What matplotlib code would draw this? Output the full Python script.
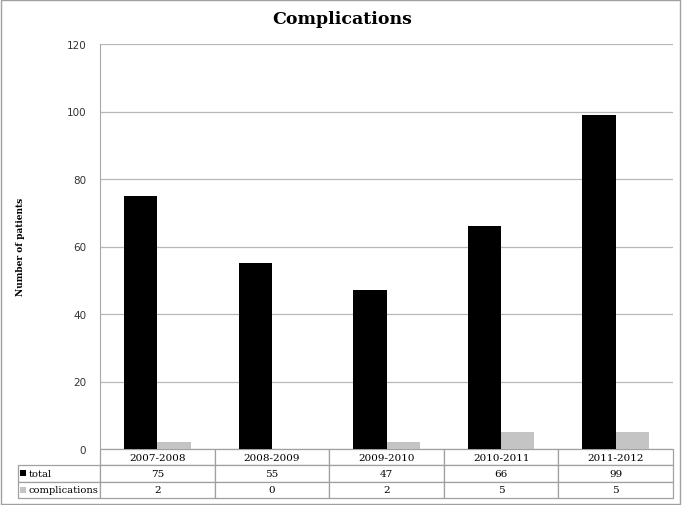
import numpy as np
import matplotlib.pyplot as plt
from matplotlib.patches import Rectangle
from matplotlib.table import Table

years = ['2007-2008', '2008-2009', '2009-2010', '2010-2011', '2011-2012']
total = [75, 55, 47, 66, 99]
complications = [2, 0, 2, 5, 5]
row_names = ['total', 'complications']
row_colors = ['black', '#c4c4c4']

W, H = 686, 506
fig = plt.figure(figsize=(W / 100, H / 100), dpi=100)


def fx(px):
    return px / W


def fy(py):
    return 1 - py / H


ax = fig.add_axes([fx(100), fy(450), fx(673) - fx(100), fy(45) - fy(450)])
x = np.arange(len(years))
bw = 0.29
ax.bar(x - bw / 2, total, bw, color=row_colors[0], zorder=3)
ax.bar(x + bw / 2, complications, bw, color=row_colors[1], zorder=3)
ax.set_xlim(-0.5, len(years) - 0.5)
ax.set_ylim(0, 120)
ax.set_yticks(range(0, 121, 20))
ax.yaxis.grid(True, color='#b8b8b8', lw=0.9)
ax.set_axisbelow(True)
for s in ['top', 'right', 'bottom']:
    ax.spines[s].set_visible(False)
ax.spines['left'].set_color('#a8a8a8')
ax.tick_params(axis='y', length=0, pad=10, labelsize=7.5, labelcolor='#333333')
ax.set_xticks([])

# data table under the plot
ax_w = 673 - 100
ax_h = 450 - 45
tbl = Table(ax, bbox=[(18 - 100) / ax_w, -(499 - 450) / ax_h, (673 - 18) / ax_w, 49 / ax_h])
widths = [82] + [114.6] * len(years)
edge = '#a0a0a0'
rows = [[''] + years,
        [row_names[0]] + [str(v) for v in total],
        [row_names[1]] + [str(v) for v in complications]]
for r, row in enumerate(rows):
    for c, txt in enumerate(row):
        loc = 'left' if (c == 0 and r > 0) else 'center'
        cell = tbl.add_cell(r, c, widths[c], 16, text=txt, loc=loc,
                            facecolor='white', edgecolor=edge)
        cell.set_linewidth(0.9)
        cell.get_text().set_fontfamily('DejaVu Serif')
        cell.get_text().set_fontsize(7.5)
        if c == 0 and r > 0:
            cell.PAD = 0.13
            cell.get_text().set_fontsize(7.1)
        if r == 0 and c == 0:
            cell.visible_edges = 'open'
tbl.auto_set_font_size(False)
ax.add_table(tbl)

# legend keys in row labels
for i, col in enumerate(row_colors):
    y0 = 477 + i * 17
    fig.add_artist(Rectangle((fx(20), fy(y0)), fx(6), fy(0) - fy(6),
                             transform=fig.transFigure, facecolor=col, edgecolor='none'))

fig.text(fx(342), fy(20), 'Complications', ha='center', va='center',
         fontsize=12.5, fontweight='bold', family='DejaVu Serif')
fig.text(fx(21), fy(247), 'Number of patients', ha='center', va='center',
         rotation=90, fontsize=6.5, fontweight='bold', family='DejaVu Serif')

fig.add_artist(Rectangle((fx(1), fy(505)), fx(680) - fx(1), fy(1) - fy(505),
                         transform=fig.transFigure, fill=False, edgecolor='#a0a0a0', lw=1))

fig.savefig('out.png', dpi=100)
